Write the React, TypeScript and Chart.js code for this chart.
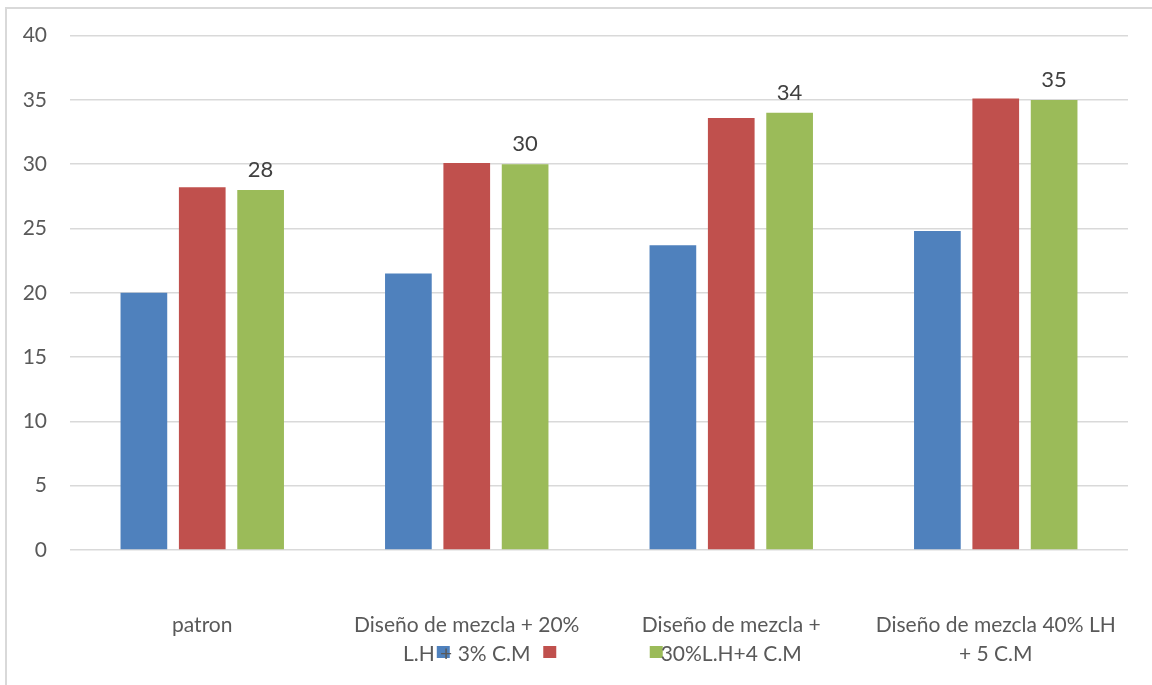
import React, { useEffect, useRef } from "react";
import { Chart, registerables } from "chart.js";

Chart.register(...registerables);

// Category labels (multi-line where the axis wraps them)
const categories: (string | string[])[] = [
  "patron",
  ["Diseño de mezcla + 20%", "L.H + 3% C.M"],
  ["Diseño de mezcla +", "30%L.H+4 C.M"],
  ["Diseño de mezcla 40% LH", "+ 5 C.M"],
];

// Series values
const seriesBlue = [20.0, 21.5, 23.7, 24.8];
const seriesRed = [28.2, 30.1, 33.6, 35.1];
const seriesGreen = [28.0, 30.0, 34.0, 35.0];

// Series names are blank in the legend (only the swatches show)
const seriesNames = ["     ", "     ", "     "];

// Value axis range
const yMin = 0;
const yMax = 40;
const yStep = 5;

const TEXT = "#595959";
const GRID = "#d9d9d9";
const FONT = "Lato, 'Open Sans', sans-serif";

// Value labels above the green bars
const valueLabels = {
  id: "valueLabels",
  afterDatasetsDraw(chart: any) {
    const meta = chart.getDatasetMeta(2);
    const ctx = chart.ctx as CanvasRenderingContext2D;
    ctx.save();
    ctx.font = `22px ${FONT}`;
    ctx.fillStyle = "#404040";
    ctx.textAlign = "center";
    ctx.textBaseline = "middle";
    meta.data.forEach((bar: any, i: number) => {
      ctx.fillText(String(Math.round(seriesGreen[i])), bar.x, bar.y - 20);
    });
    ctx.restore();
  },
};

export default function App() {
  const canvasRef = useRef<HTMLCanvasElement | null>(null);

  useEffect(() => {
    if (!canvasRef.current) return;
    const chart = new Chart(canvasRef.current, {
      type: "bar",
      data: {
        labels: categories,
        datasets: [
          { label: seriesNames[0], data: seriesBlue, backgroundColor: "#4F81BD" },
          { label: seriesNames[1], data: seriesRed, backgroundColor: "#C0504D" },
          { label: seriesNames[2], data: seriesGreen, backgroundColor: "#9BBB59" },
        ],
      },
      options: {
        animation: false,
        responsive: false,
        devicePixelRatio: 1,
        layout: { padding: { left: 0, right: 24, top: 35, bottom: 15 } },
        datasets: {
          bar: { barPercentage: 0.8, categoryPercentage: 0.662 },
        },
        plugins: {
          tooltip: { enabled: false },
          legend: {
            position: "bottom",
            labels: {
              boxWidth: 13,
              boxHeight: 12,
              padding: 65,
              color: TEXT,
              font: { family: FONT, size: 16 },
            },
          },
        },
        scales: {
          x: {
            grid: { display: false, drawTicks: false, tickLength: 0 },
            border: { display: false },
            ticks: {
              color: TEXT,
              font: { family: FONT, size: 21, lineHeight: 1.4 },
              // mirrored labels are not clipped to the axis box, so they can
              // sit below the axis and share the row with the legend swatches
              mirror: true,
              padding: -90,
              maxRotation: 0,
              autoSkip: false,
            },
            afterFit: (s: any) => {
              s.height = 29;
            },
          },
          y: {
            min: yMin,
            max: yMax,
            grid: { color: GRID, lineWidth: 1.5, drawTicks: false, tickLength: 0 },
            border: { display: false },
            ticks: {
              stepSize: yStep,
              color: TEXT,
              font: { family: FONT, size: 21 },
              padding: 23,
            },
            afterFit: (s: any) => {
              s.width = 70;
            },
          },
        },
      },
      plugins: [valueLabels],
    });
    return () => chart.destroy();
  }, []);

  return (
    <div
      style={{
        position: "fixed",
        left: 0,
        top: 0,
        width: 1152,
        height: 685,
        background: "#ffffff",
        overflow: "hidden",
      }}
    >
      <div
        style={{
          position: "absolute",
          left: 5,
          top: 7,
          width: 1160,
          height: 690,
          border: `2px solid ${GRID}`,
          boxSizing: "border-box",
        }}
      />
      <canvas
        ref={canvasRef}
        width={1152}
        height={685}
        style={{ position: "absolute", left: 0, top: 0 }}
      />
    </div>
  );
}
